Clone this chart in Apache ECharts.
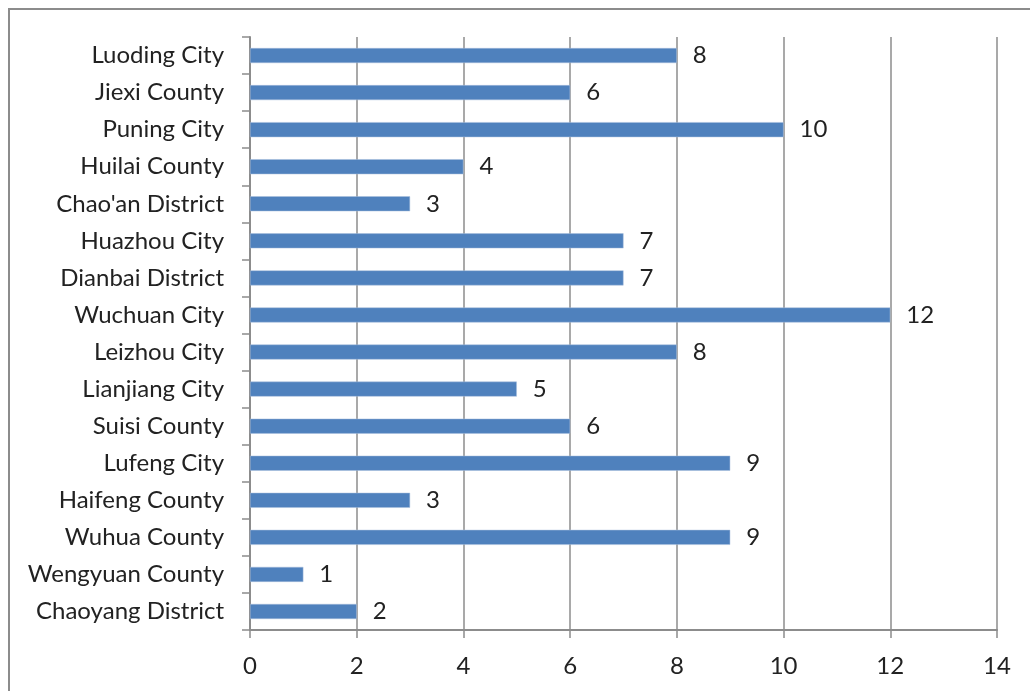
<!DOCTYPE html>
<html><head><meta charset="utf-8">
<script src="https://cdn.jsdelivr.net/npm/echarts@6/dist/echarts.min.js"></script>
<style>
html,body{margin:0;padding:0;background:#fff;}
#frame{position:absolute;left:8px;top:8px;width:1100px;height:700px;border-left:2px solid #8c8c8c;border-top:2px solid #8c8c8c;}
#c{position:absolute;left:0;top:0;width:1030px;height:691px;}
</style></head>
<body>
<div id="frame"></div>
<div id="c"></div>
<script>
const categories = ["Chaoyang District","Wengyuan County","Wuhua County","Haifeng County","Lufeng City","Suisi County","Lianjiang City","Leizhou City","Wuchuan City","Dianbai District","Huazhou City","Chao'an District","Huilai County","Puning City","Jiexi County","Luoding City"];
const values = [2,1,9,3,9,6,5,8,12,7,7,3,4,10,6,8];
const xTicks = [0,2,4,6,8,10,12,14];

const FONT = "Lato";
const chart = echarts.init(document.getElementById('c'));
chart.setOption({
  animation:false,
  backgroundColor:'transparent',
  grid:{left:250,right:33,top:37,bottom:61,containLabel:false},
  xAxis:{type:'value',min:xTicks[0],max:xTicks[xTicks.length-1],interval:2,
    axisLine:{show:true,lineStyle:{color:'#8c8c8c',width:2}},
    axisTick:{show:true,length:8,lineStyle:{color:'#8c8c8c',width:1.5}},
    splitLine:{show:true,lineStyle:{color:'#8c8c8c',width:1.5}},
    axisLabel:{color:'#222',fontFamily:FONT,fontSize:24,margin:24}},
  yAxis:{type:'category',data:categories,
    axisLine:{show:true,lineStyle:{color:'#8c8c8c',width:2}},
    axisTick:{show:true,length:8,lineStyle:{color:'#8c8c8c',width:1.5}},
    axisLabel:{color:'#222',fontFamily:FONT,fontSize:24,margin:26,padding:[3,0,0,0]}},
  series:[{type:'bar',data:values,barWidth:15,
    itemStyle:{color:'#4F81BD',borderColor:'#a9bfdc',borderWidth:0.5},
    label:{show:true,position:'right',distance:16,color:'#222',fontFamily:FONT,fontSize:24,padding:[3,0,0,0]}}]
});
</script>
</body></html>
